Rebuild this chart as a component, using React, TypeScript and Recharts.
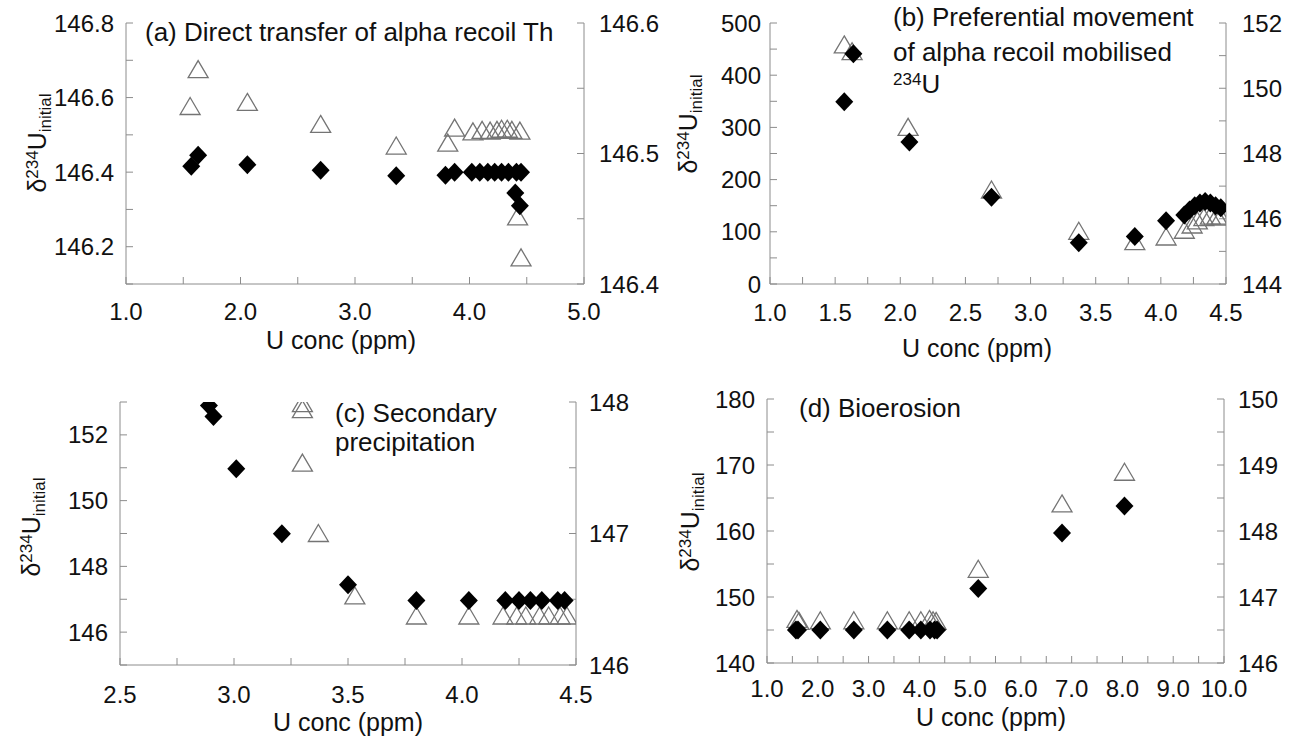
import React from 'react';
import { ScatterChart, Scatter, XAxis, YAxis } from 'recharts';

const FONT = '"Liberation Sans", Arial, Helvetica, sans-serif';
const AXIS = '#8c8c8c';

// (a) Direct transfer of alpha recoil Th
const aTriX = [1.56, 1.63, 2.06, 2.7, 3.36, 3.81, 3.87, 4.03, 4.11, 4.18, 4.24, 4.28, 4.33, 4.37, 4.44, 4.42, 4.45];
const aTriY = [146.576, 146.675, 146.587, 146.528, 146.47, 146.478, 146.518, 146.508, 146.512, 146.51, 146.512, 146.515, 146.515, 146.512, 146.51, 146.28, 146.17];
const aDiaX = [1.57, 1.63, 2.06, 2.7, 3.36, 3.79, 3.87, 4.02, 4.09, 4.16, 4.22, 4.28, 4.34, 4.41, 4.45, 4.4, 4.44];
const aDiaY = [146.416, 146.445, 146.42, 146.405, 146.39, 146.392, 146.4, 146.4, 146.4, 146.4, 146.4, 146.4, 146.4, 146.4, 146.4, 146.344, 146.31];

// (b) Preferential movement of alpha recoil mobilised 234U
const bTriX = [1.57, 1.63, 2.06, 2.7, 3.37, 3.8, 4.04, 4.18, 4.24, 4.28, 4.33, 4.38, 4.43, 4.46];
const bTriY = [458, 445, 300, 180, 101, 81, 90, 103, 113, 121, 127, 130, 130, 128];
const bDiaX = [1.57, 1.64, 2.07, 2.7, 3.37, 3.8, 4.04, 4.18, 4.22, 4.26, 4.3, 4.34, 4.38, 4.42, 4.46];
const bDiaY = [349, 441, 272, 166, 79, 91, 121, 132, 142, 150, 155, 158, 155, 150, 146];

// (c) Secondary precipitation
const cTriX = [3.3, 3.3, 3.3, 3.37, 3.53, 3.8, 4.03, 4.18, 4.24, 4.28, 4.34, 4.38, 4.43, 4.46];
const cTriY = [152.95, 152.77, 151.14, 149.0, 147.1, 146.49, 146.49, 146.49, 146.49, 146.49, 146.49, 146.49, 146.49, 146.49];
const cDiaX = [2.89, 2.91, 3.01, 3.21, 3.5, 3.8, 4.03, 4.19, 4.25, 4.3, 4.35, 4.42, 4.45];
const cDiaY = [152.89, 152.56, 150.97, 148.99, 147.44, 146.96, 146.96, 146.96, 146.96, 146.96, 146.96, 146.96, 146.96];

// (d) Bioerosion
const dTriX = [1.59, 1.63, 2.05, 2.71, 3.37, 3.8, 4.03, 4.2, 4.27, 4.33, 5.16, 6.81, 8.04];
const dTriY = [146.6, 146.3, 146.4, 146.4, 146.4, 146.4, 146.4, 146.6, 146.4, 146.3, 154.2, 164.1, 168.9];
const dDiaX = [1.57, 1.61, 2.05, 2.71, 3.37, 3.8, 4.03, 4.21, 4.3, 4.35, 5.16, 6.81, 8.04];
const dDiaY = [145, 145, 145, 145, 145, 145, 145, 145, 145, 145, 151.3, 159.7, 163.8];

// tick values (all ticks / labelled ticks)
const aXTicks = [1, 1.5, 2, 2.5, 3, 3.5, 4, 4.5, 5];
const aXLabels = [1, 2, 3, 4, 5];
const aYTicks = [146.1, 146.2, 146.3, 146.4, 146.5, 146.6, 146.7, 146.8];
const aYLabels = [146.2, 146.4, 146.6, 146.8];
const aRTicks = [146.4, 146.45, 146.5, 146.55, 146.6];
const aRLabels = [146.4, 146.5, 146.6];

const bXTicks = [1, 1.25, 1.5, 1.75, 2, 2.25, 2.5, 2.75, 3, 3.25, 3.5, 3.75, 4, 4.25, 4.5];
const bXLabels = [1, 1.5, 2, 2.5, 3, 3.5, 4, 4.5];
const bYTicks = [0, 50, 100, 150, 200, 250, 300, 350, 400, 450, 500];
const bYLabels = [0, 100, 200, 300, 400, 500];
const bRTicks = [144, 145, 146, 147, 148, 149, 150, 151, 152];
const bRLabels = [144, 146, 148, 150, 152];

const cXTicks = [2.5, 2.75, 3, 3.25, 3.5, 3.75, 4, 4.25, 4.5];
const cXLabels = [2.5, 3, 3.5, 4, 4.5];
const cYTicks = [145, 146, 147, 148, 149, 150, 151, 152, 153];
const cYLabels = [146, 148, 150, 152];
const cRTicks = [146, 146.5, 147, 147.5, 148];
const cRLabels = [146, 147, 148];

const dXTicks = [1, 1.5, 2, 2.5, 3, 3.5, 4, 4.5, 5, 5.5, 6, 6.5, 7, 7.5, 8, 8.5, 9, 9.5, 10];
const dXLabels = [1, 2, 3, 4, 5, 6, 7, 8, 9, 10];
const dYTicks = [140, 145, 150, 155, 160, 165, 170, 175, 180];
const dYLabels = [140, 150, 160, 170, 180];
const dRTicks = [146, 146.5, 147, 147.5, 148, 148.5, 149, 149.5, 150];
const dRLabels = [146, 147, 148, 149, 150];

const zip = (xs: number[], ys: number[]) => xs.map((x, i) => ({ x, y: ys[i] }));

const labelOnly = (labels: number[], digits: number) => (v: number) =>
  labels.some((m) => Math.abs(m - v) < 1e-9) ? v.toFixed(digits) : '';

const Diamond = (p: any) => {
  const { cx, cy } = p;
  return <path d={`M${cx},${cy - 9.5}L${cx + 9},${cy}L${cx},${cy + 9.5}L${cx - 9},${cy}Z`} fill="#000" />;
};

const Triangle = (p: any) => {
  const { cx, cy } = p;
  return (
    <path
      d={`M${cx},${cy - 9}L${cx + 10},${cy + 8}L${cx - 10},${cy + 8}Z`}
      fill="none"
      stroke="#747474"
      strokeWidth={1.3}
    />
  );
};

const TICK = 7;
const tickStyle = { fill: '#111', fontSize: 24, fontFamily: FONT };

type PanelProps = {
  left: number;
  top: number;
  width: number;
  margin: { top: number; right: number; bottom: number; left: number };
  gaps: { left: number; right: number; bottom: number };
  x: [number, number]; xTicks: number[]; xLabels: number[];
  y: [number, number]; yTicks: number[]; yLabels: number[]; yDigits: number;
  r: [number, number]; rTicks: number[]; rLabels: number[]; rDigits: number;
  tri: { x: number; y: number }[];
  dia: { x: number; y: number }[];
};

function Panel(p: PanelProps) {
  return (
    <div style={{ position: 'absolute', left: p.left, top: p.top }}>
      <ScatterChart width={p.width} height={370} margin={p.margin}>
        <XAxis
          type="number"
          dataKey="x"
          domain={p.x}
          ticks={p.xTicks}
          interval={0}
          allowDataOverflow
          height={40}
          stroke={AXIS}
          tickSize={-TICK}
          tickMargin={TICK + p.gaps.bottom}
          tick={tickStyle}
          tickFormatter={labelOnly(p.xLabels, 1)}
        />
        <YAxis
          yAxisId="left"
          type="number"
          dataKey="y"
          domain={p.y}
          ticks={p.yTicks}
          interval={0}
          allowDataOverflow
          width={60}
          stroke={AXIS}
          tickSize={-TICK}
          tickMargin={TICK + p.gaps.left}
          tick={tickStyle}
          tickFormatter={labelOnly(p.yLabels, p.yDigits)}
        />
        <YAxis
          yAxisId="right"
          orientation="right"
          type="number"
          domain={p.r}
          ticks={p.rTicks}
          interval={0}
          allowDataOverflow
          width={60}
          stroke={AXIS}
          tickSize={-TICK}
          tickMargin={TICK + p.gaps.right}
          tick={tickStyle}
          tickFormatter={labelOnly(p.rLabels, p.rDigits)}
        />
        <Scatter yAxisId="left" data={p.tri} shape={Triangle} isAnimationActive={false} />
        <Scatter yAxisId="left" data={p.dia} shape={Diamond} isAnimationActive={false} />
      </ScatterChart>
    </div>
  );
}

const txt: React.CSSProperties = {
  position: 'absolute',
  fontFamily: FONT,
  fontSize: 26,
  lineHeight: '28px',
  color: '#111',
  whiteSpace: 'nowrap',
};

const supStyle: React.CSSProperties = { fontSize: 17, verticalAlign: '0.45em', lineHeight: 0 };

function YLabel({ cx, cy }: { cx: number; cy: number }) {
  return (
    <div
      style={{
        ...txt,
        fontSize: 25,
        left: cx,
        top: cy,
        transform: 'translate(-50%, -50%) rotate(-90deg)',
      }}
    >
      δ<sup style={supStyle}>234</sup>U
      <sub style={{ fontSize: 17, verticalAlign: '-0.3em', lineHeight: 0 }}>initial</sub>
    </div>
  );
}

function XLabel({ cx, cy }: { cx: number; cy: number }) {
  return (
    <div style={{ ...txt, fontSize: 25, lineHeight: '20px', left: cx, top: cy, transform: 'translate(-50%, -50%)' }}>
      U conc (ppm)
    </div>
  );
}

function Text({ x, cy, children }: { x: number; cy: number; children: React.ReactNode }) {
  return <div style={{ ...txt, left: x, top: cy - 14 }}>{children}</div>;
}

export default function App() {
  return (
    <div style={{ position: 'absolute', left: 0, top: 0, width: 1296, height: 740, background: '#fff', overflow: 'hidden' }}>
      <Panel
        left={0}
        top={0}
        width={700}
        margin={{ top: 23, right: 56, bottom: 46, left: 66 }}
        gaps={{ left: 12, right: 15, bottom: 19 }}
        x={[1, 5]} xTicks={aXTicks} xLabels={aXLabels}
        y={[146.1, 146.8]} yTicks={aYTicks} yLabels={aYLabels} yDigits={1}
        r={[146.4, 146.6]} rTicks={aRTicks} rLabels={aRLabels} rDigits={1}
        tri={zip(aTriX, aTriY)}
        dia={zip(aDiaX, aDiaY)}
      />
      <Panel
        left={648}
        top={0}
        width={648}
        margin={{ top: 23, right: 10, bottom: 46, left: 62 }}
        gaps={{ left: 9, right: 16, bottom: 20 }}
        x={[1, 4.5]} xTicks={bXTicks} xLabels={bXLabels}
        y={[0, 500]} yTicks={bYTicks} yLabels={bYLabels} yDigits={0}
        r={[144, 152]} rTicks={bRTicks} rLabels={bRLabels} rDigits={0}
        tri={zip(bTriX, bTriY)}
        dia={zip(bDiaX, bDiaY)}
      />
      <Panel
        left={0}
        top={370}
        width={700}
        margin={{ top: 32, right: 64, bottom: 35, left: 60 }}
        gaps={{ left: 12, right: 13, bottom: 21 }}
        x={[2.5, 4.5]} xTicks={cXTicks} xLabels={cXLabels}
        y={[145, 153]} yTicks={cYTicks} yLabels={cYLabels} yDigits={0}
        r={[146, 148]} rTicks={cRTicks} rLabels={cRLabels} rDigits={0}
        tri={zip(cTriX, cTriY)}
        dia={zip(cDiaX, cDiaY)}
      />
      <Panel
        left={648}
        top={370}
        width={648}
        margin={{ top: 29, right: 12, bottom: 37, left: 59 }}
        gaps={{ left: 12, right: 14, bottom: 17 }}
        x={[1, 10]} xTicks={dXTicks} xLabels={dXLabels}
        y={[140, 180]} yTicks={dYTicks} yLabels={dYLabels} yDigits={0}
        r={[146, 150]} rTicks={dRTicks} rLabels={dRLabels} rDigits={0}
        tri={zip(dTriX, dTriY)}
        dia={zip(dDiaX, dDiaY)}
      />

      <Text x={145} cy={32}>(a) Direct transfer of alpha recoil Th</Text>
      <Text x={893} cy={17}>(b) Preferential movement</Text>
      <Text x={893} cy={52}>of alpha recoil mobilised</Text>
      <Text x={893} cy={84}>
        <sup style={supStyle}>234</sup>U
      </Text>
      <Text x={335} cy={413}>(c) Secondary</Text>
      <Text x={335} cy={442}>precipitation</Text>
      <Text x={799} cy={408}>(d) Bioerosion</Text>

      <YLabel cx={37} cy={143} />
      <YLabel cx={688} cy={124} />
      <YLabel cx={31} cy={527} />
      <YLabel cx={690} cy={522} />

      <XLabel cx={341} cy={340} />
      <XLabel cx={977} cy={348} />
      <XLabel cx={348} cy={722} />
      <XLabel cx={991} cy={717} />
    </div>
  );
}
